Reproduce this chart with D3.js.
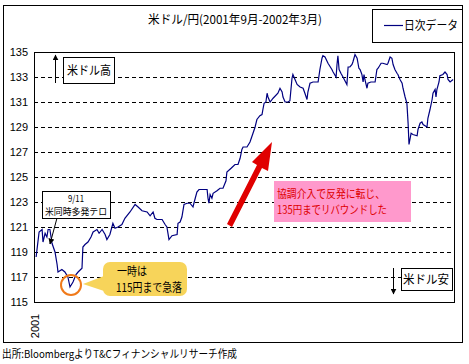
<!DOCTYPE html>
<html><head><meta charset="utf-8">
<script src="https://cdn.jsdelivr.net/npm/d3@7"></script>
<style>
body{margin:0;background:#fff;}
text{font-family:"Noto Sans CJK JP","Noto Sans",sans-serif;}
</style></head>
<body><svg id="c" width="469" height="364"></svg>
<script>
const title = "米ドル/円(2001年9月-2002年3月)";
const seriesName = "日次データ";
const yTicks = [115,117,119,121,123,125,127,129,131,133,135];
const xLabel = "2001";
const source = "出所:BloombergよりT&Cフィナンシャルリサーチ作成";
// trading-day offset from start of Sep 2001
const days = [0.7,1.7,2.7,3,3.7,4.3,4.7,5.3,6,7,7.7,8,9.3,10.3,11.3,12,13,14,14.7,16,16.3,17,18,19,19.7,21,21.7,22.7,23.7,24.3,25.3,26.3,27,28,29.3,30.3,32,33.7,34.7,36,37.7,38.7,39.7,40.3,41,42.7,43.7,44.3,45,46,47.7,48,48.7,49.3,50,51,52,53,53.3,54.3,55,56.3,57.7,58,58.3,58.7,59.3,59.7,61,62,63,64,64.3,65.7,67,68,68.7,69.3,69.7,71,72,73,73.7,74.3,75.3,76,76.3,76.7,77.3,77.7,78,78.7,79.7,81.3,82,82.7,83,83.7,84.7,85.3,86,86.3,87,87.7,88.7,89.7,90.3,91,91.3,92,93,94.7,95.3,96,96.3,97,98,99.3,99.7,100.7,101,101.3,101.7,102.3,103,104.3,104.7,105.3,106,106.3,107,107.7,108.3,108.7,109.3,109.7,110,110.3,111,111.3,112.3,113.7,114.3,114.7,115.7,116.3,117.7,118,118.7,119.3,119.7,120.3,121,121.3,122,122.7,123,123.7,124.3,124.7,125,125.7,126.3,127.7,128,128.7,129.3,129.7,131,131.3,132,132.7,133,133.7,134,134.3,135,135.3,136.3,137,137.7,138,138.7,139.7];
const rates = [118.6,120.6,120.8,119.8,120.5,120.2,120.8,120.8,119.7,119.0,118.0,117.4,117.6,117.4,117.0,116.2,116.6,117.2,117.4,117.7,119.4,119.6,119.8,120.2,120.6,120.8,120.5,120.8,120.4,120.0,120.4,121.3,120.9,121.0,121.2,121.7,122.2,122.8,122.6,122.3,122.2,121.9,122.2,121.7,121.6,121.6,121.2,121.0,120.0,120.3,120.4,121.3,121.4,121.8,122.8,122.9,122.9,122.6,122.9,123.8,124.0,124.0,124.0,123.3,122.9,123.6,123.3,123.7,123.9,124.1,124.1,124.7,125.4,125.7,126.0,126.0,126.5,127.2,127.4,127.4,127.8,128.5,129.0,129.6,129.9,130.0,130.4,130.9,131.0,131.7,131.4,131.0,131.3,131.7,132.1,131.8,131.4,131.0,131.0,131.1,132.9,133.2,132.8,132.4,132.2,132.1,131.7,131.2,131.8,132.5,132.6,132.6,133.6,134.5,134.7,134.6,134.1,133.6,133.4,133.0,134.0,134.7,133.6,133.3,133.0,132.4,133.8,133.8,134.0,134.2,134.8,134.5,133.7,133.6,133.2,132.6,133.2,132.8,132.1,132.5,132.6,132.6,133.6,133.7,134.1,134.1,134.0,134.1,134.6,134.5,134.0,133.6,133.3,133.2,132.8,132.5,132.1,131.4,130.9,129.3,127.6,128.5,128.4,128.3,128.8,129.3,129.4,129.2,129.0,129.7,130.4,131.2,131.7,132.0,131.4,132.0,132.6,133.1,133.2,133.4,133.2,132.8,132.6,132.8];
const notes = {
  high: "米ドル高", low: "米ドル安",
  terror: ["9/11", "米同時多発テロ"],
  drop: ["一時は", "115円まで急落"],
  rebound: ["協調介入で反発に転じ、", "135円までリバウンドした"]
};

const svg = d3.select("#c");
const P = {l:34, r:454, t:52, b:302};
const x = d3.scaleLinear().domain([0,140]).range([P.l,P.r]);
const y = d3.scaleLinear().domain([115,135]).range([P.b,P.t]);

function txt(xp, yp, s, size, len, anchor, fill){
  const t = svg.append("text").attr("x",xp).attr("y",yp).attr("font-size",size)
    .attr("text-anchor",anchor||"start").attr("fill",fill||"#000").text(s);
  if(len) t.attr("textLength",len).attr("lengthAdjust","spacingAndGlyphs");
  return t;
}

// outer frame
svg.append("rect").attr("x",3.5).attr("y",5.5).attr("width",459).attr("height",337)
  .attr("fill","none").attr("stroke","#000");

// title
txt(148,24,title,12,174);

// legend
svg.append("rect").attr("x",372.5).attr("y",9.5).attr("width",90).attr("height",33)
  .attr("fill","#fff").attr("stroke","#000");
svg.append("line").attr("x1",384).attr("x2",403).attr("y1",25.5).attr("y2",25.5)
  .attr("stroke","#000080").attr("stroke-width",1.2);
txt(404,30,seriesName,12,54);

// gridlines
svg.append("g").selectAll("line").data(yTicks.filter(v=>v>115 && v<135)).join("line")
  .attr("x1",P.l).attr("x2",P.r).attr("y1",d=>Math.round(y(d))+0.5).attr("y2",d=>Math.round(y(d))+0.5)
  .attr("stroke","#000").attr("stroke-dasharray","4,3");

// y axis labels
const yAxis = d3.axisLeft(y).tickValues(yTicks).tickSize(0).tickPadding(6);
const ya = svg.append("g").attr("transform",`translate(${P.l},0)`).call(yAxis);
ya.select(".domain").remove();
ya.selectAll("text").attr("font-size",11).attr("fill","#000")
  .style("font-family","'Liberation Sans',Arial,sans-serif");

// plot border
svg.append("rect").attr("x",P.l+0.5).attr("y",P.t+0.5).attr("width",P.r-P.l).attr("height",P.b-P.t)
  .attr("fill","none").attr("stroke","#000");

// x label
svg.append("text").attr("transform",`translate(${P.l+5},326) rotate(-90)`)
  .attr("text-anchor","middle").attr("font-size",11)
  .style("font-family","'Liberation Sans',Arial,sans-serif").text(xLabel);

// data line
const pts = days.map((d,i)=>[d,rates[i]]);
svg.append("path").datum(pts)
  .attr("d",d3.line().x(d=>x(d[0])).y(d=>y(d[1])))
  .attr("fill","none").attr("stroke","#000080").attr("stroke-width",1.2);

// arrow markers
const defs = svg.append("defs");
defs.append("marker").attr("id","ah").attr("viewBox","0 0 10 10").attr("refX",9).attr("refY",5)
  .attr("markerWidth",6).attr("markerHeight",6).attr("markerUnits","userSpaceOnUse").attr("orient","auto")
  .append("path").attr("d","M0,0L10,5L0,10Z").attr("fill","#000");

// 米ドル高
svg.append("line").attr("x1",55.5).attr("x2",55.5).attr("y1",83).attr("y2",55)
  .attr("stroke","#000").attr("marker-end","url(#ah)");
svg.append("rect").attr("x",63.5).attr("y",57.5).attr("width",51).attr("height",26)
  .attr("fill","#fff").attr("stroke","#000");
txt(67,75,notes.high,12,44);

// 米ドル安
svg.append("line").attr("x1",393.5).attr("x2",393.5).attr("y1",268).attr("y2",294)
  .attr("stroke","#000").attr("marker-end","url(#ah)");
svg.append("rect").attr("x",401.5).attr("y",268.5).attr("width",51).attr("height",22)
  .attr("fill","#fff").attr("stroke","#000");
txt(403,284,notes.low,12,46);

// 9/11 callout
svg.append("line").attr("x1",57).attr("y1",218).attr("x2",50).attr("y2",244)
  .attr("stroke","#000").attr("marker-end","url(#ah)");
svg.append("rect").attr("x",42.5).attr("y",191.5).attr("width",68).attr("height",27)
  .attr("fill","#fff").attr("stroke","#000");
txt(76,202,notes.terror[0],9.5,16,"middle");
txt(45,215,notes.terror[1],9.5,62);

// orange circle
svg.append("ellipse").attr("cx",71).attr("cy",285).attr("rx",10).attr("ry",10)
  .attr("fill","none").attr("stroke","#f07a1a").attr("stroke-width",2);

// yellow callout
svg.append("path").attr("d","M83,284 L104,276 L104,291 Z").attr("fill","#f7d45a");
svg.append("rect").attr("x",103).attr("y",262).attr("width",84).attr("height",34).attr("rx",7)
  .attr("fill","#f7d45a");
txt(117,276,notes.drop[0],12,30);
txt(116,292,notes.drop[1],12,66);

// red arrow
svg.append("path").attr("d","M227,224 L232,227 L262,168 L268,171 L272,142 L252,162 L257,165 Z")
  .attr("fill","#e00000");

// pink box
svg.append("rect").attr("x",274).attr("y",181).attr("width",137).attr("height",41).attr("fill","#ff99cc");
txt(277,198,notes.rebound[0],11.5,108,"start","#e00000");
txt(277,214,notes.rebound[1],11.5,110,"start","#e00000");

// source
txt(2,358,source,11,235);
</script></body></html>
